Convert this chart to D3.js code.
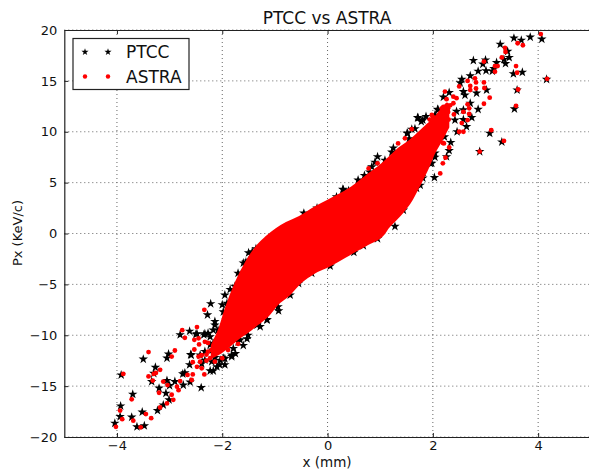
<!DOCTYPE html>
<html>
<head>
<meta charset="utf-8">
<script src="https://cdn.jsdelivr.net/npm/d3@7"></script>
<style>
  html, body { margin: 0; padding: 0; background: #fff; overflow: hidden; }
  text { font-family: "DejaVu Sans", sans-serif; fill: #111; }
</style>
</head>
<body>
<div id="chart"></div>
<script>
const xTicks = [-4, -2, 0, 2, 4];
const yTicks = [-20, -15, -10, -5, 0, 5, 10, 15, 20];
const seriesNames = ['PTCC', 'ASTRA'];

// PTCC stars [x, Px]
const ptccPoints = [
  [3.54,19.2],[3.68,19.0],[3.85,19.3],[4.07,19.1],[3.28,18.6],[3.42,17.9],[3.45,17.3],[3.35,17.1],[3.38,16.7],
  [2.77,17.0],[3.0,17.05],[2.95,16.65],[3.21,16.8],[3.16,16.2],[3.01,16.0],[3.13,15.95],[3.53,15.7],[3.70,15.85],
  [4.16,15.15],[3.60,14.1],[3.55,12.25],[3.08,9.85],[3.31,9.0],[2.89,8.05],[2.03,5.5],[2.86,15.95],[2.71,15.5],
  [2.55,15.15],[2.52,14.8],[2.83,13.8],[3.02,14.1],[2.31,13.85],[2.2,13.4],[2.58,13.95],[2.61,13.6],[2.71,12.8],
  [2.86,12.2],[2.58,12.15],[2.45,12.0],[2.58,11.2],[2.74,11.4],[2.42,11.15],[2.64,10.5],[2.46,10.0],[2.34,8.95],
  [2.31,8.15],[2.26,7.55],[2.22,9.5],[2.09,12.2],[1.71,11.4],[1.87,11.5],[1.60,10.25],[1.52,9.85],[0.95,7.55],
  [0.84,6.55],[1.09,7.2],[0.58,5.25],[0.29,4.35],[0.17,3.6],[-0.2,2.5],[1.95,6.9],[1.79,5.6],[1.69,4.45],[1.44,2.3],
  [2.04,7.9],[1.98,9.6],[1.80,7.9],[1.66,10.3],[1.78,11.0],[1.55,9.3],[1.25,8.4],[0.7,5.7],[0.4,4.2],[-0.45,2.0],
  [1.72,11.35],[1.81,11.15],[1.51,9.85],[2.1,12.15],[2.04,11.65],[2.04,7.5],[1.98,6.9],[1.81,5.45],[1.76,4.75],
  [0.3,4.3],[0.8,6.05],[0.9,7.0],[1.22,8.0],[0.2,-2.1],[0.68,-1.2],
  [-4.04,-18.65],[-3.94,-18.0],[-3.93,-16.95],[-3.92,-13.9],[-3.72,-18.05],[-3.7,-15.8],[-3.62,-19.0],[-3.48,-18.9],
  [-3.52,-17.55],[-3.5,-12.35],[-3.27,-13.15],[-3.3,-13.75],[-3.34,-14.55],[-3.2,-15.2],[-3.23,-17.4],[-3.12,-16.85],
  [-3.01,-16.35],[-3.05,-14.45],[-3.0,-14.95],[-3.07,-15.7],[-3.02,-11.85],[-3.05,-12.25],[-2.8,-9.95],[-2.62,-9.6],
  [-2.9,-14.55],[-2.75,-13.8],[-2.71,-13.7],[-2.74,-14.9],[-2.61,-14.6],[-2.62,-12.9],[-2.6,-11.9],[-2.5,-9.9],
  [-2.4,-15.15],[-2.22,-6.9],[-2.28,-8.0],[-2.35,-9.95],[-2.42,-11.95],[-2.39,-12.8],[-2.23,-13.5],[-2.17,-13.5],
  [-2.04,-12.45],[-1.82,-12.1],[-1.79,-11.3],[-1.53,-10.35],[-1.66,-10.45],[-1.28,-9.15],[-1.41,-8.65],[-1.15,-8.45],
  [-0.93,-7.6],[-1.0,-7.0],[-0.71,-6.05],[-0.55,-4.9],[-1.98,-7.7],[-2.14,-9.0],[-1.91,-6.85],[-1.76,-5.2],
  [-2.23,-10.15],[-2.17,-10.8],[-1.62,-3.9],[-1.5,-2.7],[-1.36,-1.5],[-2.05,-12.9],[-1.95,-12.3],[-2.2,-12.6],
  [-0.3,-3.9],[0.05,-3.2],[0.5,-1.85],[0.95,-0.5],[1.28,0.7],
  [-1.95,-6.05],[-2.14,-8.65],[-2.17,-9.5],[-2.27,-9.8],[-2.33,-9.85],[-2.48,-9.85],[-2.59,-11.95],[-2.33,-12.45],
  [-2.1,-13.1],[-1.98,-12.25],[-1.82,-11.95],[-1.7,-10.65],[-1.51,-10.0],[-1.34,-9.0],[-1.15,-8.5],[-0.94,-7.2],
  [-1.98,-10.65],[-2.08,-9.5],[-2.04,-10.95],[-2.19,-11.45],[-1.89,-7.05],[-1.78,-5.55],[-1.66,-4.1],[-1.55,-2.8],[-1.43,-1.8],
  [-2.23,-10.95],[-2.33,-11.6],[-2.14,-12.2],[-1.95,-12.9],[-1.75,-11.8],[-1.6,-11.0],
  [-2.0,-7.0],[-1.85,-5.5],[-1.7,-3.9],[-1.6,-2.9],[-1.5,-1.9]
];

// ASTRA dots [x, Px]
const astraPoints = [
  [4.05,19.6],[3.61,18.7],[3.71,18.5],[3.37,18.25],[3.38,17.85],[3.31,17.3],[2.97,16.9],[3.18,16.45],[3.23,16.45],
  [3.58,16.45],[3.18,15.9],[3.60,15.8],[4.17,15.2],[3.62,14.15],[3.58,12.55],[3.11,10.15],[3.35,9.1],[2.89,8.05],
  [2.14,5.9],[2.19,6.9],[2.24,7.45],[2.31,8.45],[2.21,8.85],[2.58,10.0],[2.5,10.0],[2.55,10.85],[2.66,11.15],
  [2.69,11.75],[2.69,12.3],[2.66,12.7],[2.58,11.95],[2.97,12.75],[3.08,13.35],[2.98,14.3],[2.97,14.85],[2.82,14.85],
  [2.82,14.25],[2.71,14.5],[2.71,14.1],[2.66,15.0],[2.8,15.25],[2.23,13.95],[2.26,13.2],[2.39,13.45],[2.45,13.3],
  [2.39,12.8],[2.5,14.45],[2.2,12.45],[2.29,12.3],[2.14,11.8],[2.26,11.8],[1.98,11.65],[1.94,11.2],[1.34,8.85],
  [1.47,9.35],[0.78,6.4],[0.95,6.9],[2.3,11.2],[2.4,11.7],[2.2,10.6],
  [2.0,11.45],[2.17,12.3],[2.29,11.95],[2.19,11.45],[2.1,11.15],[2.27,11.15],[2.33,12.6],[2.04,10.35],[2.0,9.85],[1.6,10.25],[2.19,8.9],
  [-4.02,-19.0],[-3.94,-17.4],[-3.9,-18.25],[-3.88,-13.8],[-3.72,-16.3],[-3.69,-18.4],[-3.55,-19.05],[-3.45,-17.75],
  [-3.35,-18.15],[-3.4,-11.65],[-3.4,-14.05],[-3.3,-13.8],[-3.26,-13.7],[-3.18,-13.4],[-3.32,-14.45],[-3.12,-14.55],
  [-3.2,-15.65],[-3.04,-14.9],[-2.96,-15.85],[-2.93,-16.35],[-3.05,-16.7],[-3.18,-17.1],[-2.96,-12.1],[-2.9,-11.5],
  [-2.76,-9.5],[-2.71,-10.25],[-2.8,-14.5],[-2.86,-15.05],[-2.83,-15.4],[-2.66,-13.9],[-2.56,-13.85],[-2.58,-14.4],
  [-2.48,-9.2],[-2.53,-10.45],[-2.45,-10.3],[-2.44,-10.9],[-2.53,-11.4],[-2.56,-12.65],[-2.45,-12.1],[-2.39,-13.25],
  [-2.34,-13.85],[-2.34,-7.5],[-2.3,-11.9],[-2.3,-12.5],[-2.4,-12.0],
  [-2.2,-11.45],[-2.27,-11.6],[-2.39,-11.95],[-2.42,-12.6],[-2.48,-13.1],[-2.23,-12.25],[-2.14,-12.6],[-2.33,-10.65],
  [-2.27,-10.75],[-2.0,-12.25],[-1.89,-11.45],[-1.7,-10.85]
];

// dense core where single markers cannot be read: edges of the filled cloud
const coreX = [-2.175,-2.04,-1.91,-1.72,-1.53,-1.34,-1.15,-0.96,-0.77,-0.52,-0.275,0.01,0.48,0.75,1.05,1.13,1.38,1.57,1.70,1.89,2.0,2.14,2.27];
const coreTop = [-11.0,-9.5,-7.4,-4.86,-2.90,-1.43,-0.44,0.34,0.93,1.52,2.31,3.10,4.47,5.55,6.73,7.1,8.3,9.0,9.6,10.5,11.0,11.84,12.63];
const coreBottom = [-12.0,-11.6,-11.1,-10.27,-9.58,-8.80,-8.01,-6.83,-6.04,-4.67,-3.78,-3.10,-1.72,-0.93,0.05,0.64,2.0,3.3,4.57,6.54,7.9,9.19,10.47];

const width = 589;
const height = 472;
const margin = { top: 30, left: 64.3, bottom: 437, right: 590.8 };

const x = d3.scaleLinear().domain([-5, 5]).range([margin.left, margin.right]);
const y = d3.scaleLinear().domain([-20, 20]).range([margin.bottom, margin.top]);

const svg = d3.select('#chart').append('svg')
  .attr('width', width).attr('height', height)
  .style('display', 'block');

// Grid
const grid = svg.append('g').attr('fill', 'none').attr('stroke', '#666')
  .attr('stroke-width', 1).attr('stroke-dasharray', '1,3');
xTicks.forEach(t => {
  grid.append('line').attr('x1', x(t)).attr('x2', x(t)).attr('y1', margin.top).attr('y2', margin.bottom);
});
yTicks.forEach(t => {
  grid.append('line').attr('x1', margin.left).attr('x2', margin.right).attr('y1', y(t)).attr('y2', y(t));
});

// Markers: PTCC underneath, ASTRA on top
const star = d3.symbol().type(d3.symbolStar).size(28);
svg.append('g').selectAll('path').data(ptccPoints).join('path')
  .attr('d', star)
  .attr('transform', d => `translate(${x(d[0])},${y(d[1])})`)
  .attr('fill', '#000');

const core = d3.area()
  .x((d, i) => x(coreX[i]))
  .y0((d, i) => y(coreBottom[i]))
  .y1((d, i) => y(coreTop[i]))
  .curve(d3.curveMonotoneX);

svg.append('path').datum(coreX).attr('d', core).attr('fill', '#f00')
  .attr('stroke', '#f00').attr('stroke-width', 4.5).attr('stroke-linejoin', 'round');

svg.append('g').selectAll('circle').data(astraPoints).join('circle')
  .attr('cx', d => x(d[0]))
  .attr('cy', d => y(d[1]))
  .attr('r', 2.4)
  .attr('fill', '#f00');

// Axes, ticks point inward
const fmt = d => String(d).replace('-', '\u2212');
const axisStyle = g => {
  g.selectAll('.domain').attr('stroke', '#222').attr('stroke-width', 1.2);
  g.selectAll('.tick line').attr('stroke', '#222');
  g.selectAll('.tick text').attr('font-size', 13).attr('font-family', '"DejaVu Sans", sans-serif');
};

svg.append('g').attr('transform', `translate(0,${margin.bottom})`)
  .call(d3.axisBottom(x).tickValues(xTicks).tickFormat(fmt).tickSizeInner(-4).tickSizeOuter(0).tickPadding(4))
  .call(axisStyle);
svg.append('g').attr('transform', `translate(0,${margin.top})`)
  .call(d3.axisTop(x).tickValues(xTicks).tickFormat('').tickSizeInner(-4).tickSizeOuter(0))
  .call(axisStyle);
svg.append('g').attr('transform', `translate(${margin.left},0)`)
  .call(d3.axisLeft(y).tickValues(yTicks).tickFormat(fmt).tickSizeInner(-4).tickSizeOuter(0).tickPadding(7))
  .call(axisStyle);

// Title and axis labels
svg.append('text').attr('x', 327).attr('y', 24).attr('text-anchor', 'middle')
  .attr('font-size', 17).text('PTCC vs ASTRA');
svg.append('text').attr('x', 327).attr('y', 467).attr('text-anchor', 'middle')
  .attr('font-size', 13.5).text('x (mm)');
svg.append('text').attr('transform', 'rotate(-90)').attr('x', -233).attr('y', 22)
  .attr('text-anchor', 'middle').attr('font-size', 13).text('Px (KeV/c)');

// Legend
const legendStar = d3.symbol().type(d3.symbolStar).size(16);
const legend = svg.append('g');
legend.append('rect').attr('x', 73).attr('y', 38.5).attr('width', 116).attr('height', 51)
  .attr('fill', '#fff').attr('stroke', '#222').attr('stroke-width', 1.2);
seriesNames.forEach((name, i) => {
  const ly = 52 + i * 24.5;
  [85, 108].forEach(lx => {
    if (i === 0) {
      legend.append('path').attr('d', legendStar).attr('transform', `translate(${lx},${ly})`).attr('fill', '#000');
    } else {
      legend.append('circle').attr('cx', lx).attr('cy', ly).attr('r', 2.2).attr('fill', '#f00');
    }
  });
  legend.append('text').attr('x', 126).attr('y', ly + 6).attr('font-size', 17).text(name);
});
</script>
</body>
</html>
